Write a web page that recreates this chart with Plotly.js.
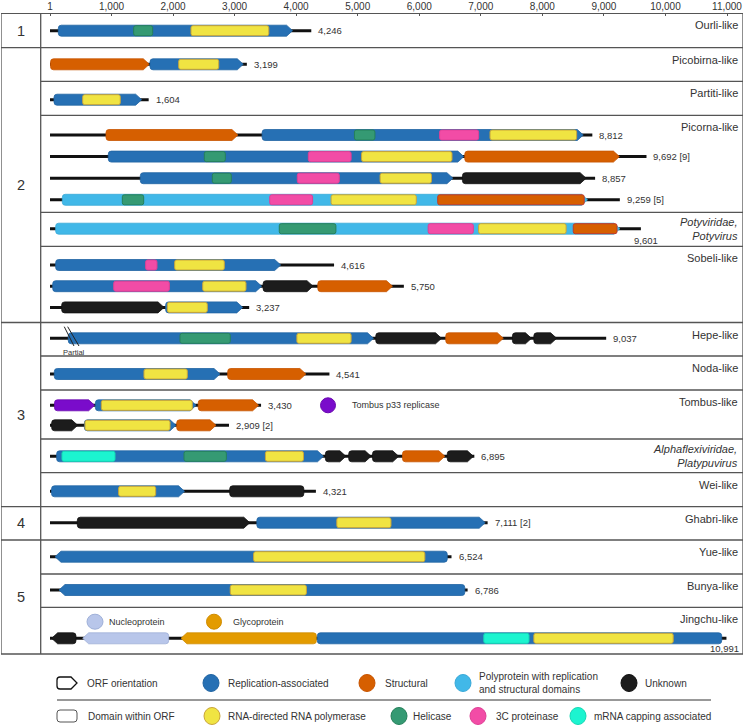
<!DOCTYPE html>
<html><head><meta charset="utf-8">
<script src="https://cdn.plot.ly/plotly-3.0.1.min.js"></script>
<style>html,body{margin:0;padding:0;background:#fff}#chart{width:745px;height:727px}</style>
</head><body><div id="chart"></div>
<script>
// ================= DATA =================
const axisTicks = [1, 1000, 2000, 3000, 4000, 5000, 6000, 7000, 8000, 9000, 10000, 11000];

const cladeNames = ["Ourli-like", "Picobirna-like", "Partiti-like", "Picorna-like", "<i>Potyviridae,</i><br><i>Potyvirus</i>",
  "Sobeli-like", "Hepe-like", "Noda-like", "Tombus-like", "<i>Alphaflexiviridae,</i><br><i>Platypuvirus</i>",
  "Wei-like", "Ghabri-like", "Yue-like", "Bunya-like", "Jingchu-like"];
const cladeGroups = [1, 2, 2, 2, 2, 2, 3, 3, 3, 3, 3, 4, 5, 5, 5];

const genomeClade  = [0, 1, 2, 3, 3, 3, 3, 4, 5, 5, 5, 6, 7, 8, 8, 9, 10, 11, 12, 13, 14];
const genomeLength = [4246, 3199, 1604, 8812, 9692, 8857, 9259, 9601, 4616, 5750, 3237, 9037, 4541, 3430, 2909, 6895, 4321, 7111, 6524, 6786, 10991];
const genomeNote   = ["", "", "", "", "[9]", "", "[5]", "", "", "", "", "", "", "", "[2]", "", "", "[2]", "", "", ""];
const genomePartial = [11];

// ORFs: genome index, start, end, class, strand (1 forward, -1 reverse, 0 no arrow)
const orfGenome = [0, 1, 1, 2, 3, 3, 4, 4, 5, 5, 6, 7, 8, 9, 9, 9, 10, 10, 11, 11, 11, 11, 11, 12, 12, 13, 13, 13, 14, 14, 14, 15, 15, 15, 15, 15, 15, 16, 16, 17, 17, 18, 19, 20, 20, 20, 20];
const orfStart = [136, 10, 1626, 66, 911, 3447, 948, 6740, 1468, 6702, 201, 93, 93, 45, 3463, 4352, 191, 1880, 298, 5294, 6431, 7514, 7862, 71, 2888, 74, 739, 2409, 28, 560, 2060, 109, 4475, 4854, 5241, 5728, 6455, 26, 2921, 445, 3362, 82, 147, 28, 532, 2129, 4344];
const orfEnd   = [3942, 1614, 3141, 1490, 3054, 8665, 6724, 9252, 6547, 8711, 8734, 9260, 3749, 3440, 4274, 5565, 1853, 3132, 5257, 6362, 7366, 7823, 8232, 2763, 4158, 726, 2375, 3390, 451, 2048, 2698, 4444, 4808, 5218, 5666, 6416, 6880, 2187, 4125, 3247, 7072, 6455, 6740, 423, 1929, 4329, 10914];
const orfClass = ["rep", "str", "rep", "rep", "str", "rep", "rep", "str", "rep", "unk", "poly", "poly", "rep", "rep", "unk", "str", "unk", "rep", "rep", "unk", "str", "unk", "unk", "rep", "str", "p33", "rep", "str", "unk", "rep", "str", "rep", "unk", "unk", "unk", "str", "unk", "rep", "unk", "unk", "rep", "rep", "rep", "unk", "np", "gp", "rep"];
const orfStrand = [1, 1, 1, 1, 1, 1, 1, 1, 1, 1, 1, 1, 1, 1, 1, 1, 1, 1, 1, 1, 1, 1, 1, 1, 1, 1, 1, 1, 1, 1, 1, 1, 1, 1, 1, 1, 1, 1, 0, 1, 1, -1, -1, -1, -1, -1, 0];

// Domains within ORFs
const domGenome = [0, 0, 1, 2, 3, 3, 3, 4, 4, 4, 5, 5, 5, 6, 6, 6, 6, 7, 7, 7, 7, 8, 8, 9, 9, 10, 11, 11, 12, 13, 14, 15, 15, 15, 16, 17, 18, 19, 20, 20];
const domStart  = [1360, 2292, 2092, 532, 4947, 6331, 7150, 2508, 4198, 5063, 2638, 4019, 5364, 1176, 3571, 4568, 6300, 3726, 6145, 6964, 8502, 1555, 2027, 1036, 2482, 1907, 2113, 4012, 1528, 835, 570, 196, 2178, 3501, 1116, 4661, 3309, 2930, 7049, 7862];
const domEnd    = [1669, 3556, 2742, 1143, 5280, 6965, 8557, 2849, 4893, 6532, 2947, 4700, 6199, 1523, 4267, 5952, 8680, 4646, 6879, 8386, 9213, 1739, 2833, 1940, 3185, 2557, 2930, 4893, 2232, 2313, 1951, 1057, 2866, 4119, 1718, 5541, 6091, 4167, 7783, 10126];
const domType   = ["hel", "rdrp", "rdrp", "rdrp", "hel", "c3", "rdrp", "hel", "c3", "rdrp", "hel", "c3", "rdrp", "hel", "c3", "rdrp", "strd", "hel", "c3", "rdrp", "strd", "c3", "rdrp", "c3", "rdrp", "rdrp", "hel", "rdrp", "rdrp", "rdrp", "rdrp", "cap", "hel", "rdrp", "rdrp", "rdrp", "rdrp", "rdrp", "cap", "rdrp"];

// Legend texts
const legendOrfKeys   = ["rep", "str", "poly", "unk"];
const legendOrfText   = ["Replication-associated", "Structural", "Polyprotein with replication<br>and structural domains", "Unknown"];
const legendDomKeys   = ["rdrp", "hel", "c3", "cap"];
const legendDomText   = ["RNA-directed RNA polymerase", "Helicase", "3C proteinase", "mRNA capping associated"];

// ================= STYLE / LAYOUT =================
const FONT = "Liberation Sans, Arial, Helvetica, sans-serif";
const FILL = {rep: "#2670b4", str: "#d65f00", poly: "#41b8e8", unk: "#1c1c1c", p33: "#7a0ccb", np: "#b8c6ea", gp: "#e39b00",
              rdrp: "#f0e442", hel: "#359a73", c3: "#f24ca6", cap: "#1cf4d0", strd: "#d65f00"};
const EDGE = {rep: "#2165a3", str: "#c85400", poly: "#3aa9d8", unk: "#111111", p33: "#6a08b0", np: "#9fb0d8", gp: "#d08c00",
              rdrp: "#c9a43a", hel: "#25805a", c3: "#df3f95", cap: "#14d8b4", strd: "#c0392b"};

const K = 677 / 10999;          // px per bp
const bpPerPx = 1 / K;
const bpAt = px => 1 + (px - 50) / K;

const FRAME_L = 1, FRAME_R = 743, GROUP_COL = 40.7, TOP = 13.3;
const ROW_H   = [34.4, 33.6, 34, 97, 34, 76.2, 33.5, 34, 49, 33.7, 34, 33.3, 34, 33.3, 46.7];
const ROW_PAD = [17.4, 16.6, 18.4, 19.7, 16.4, 18.7, 15.8, 18, 15.3, 17.3, 18.6, 16, 16.7, 16, 31];
const ROW_GAP = [0, 0, 0, 21.6, 0, 21.2, 0, 0, 20, 0, 0, 0, 0, 0, 0];
const ORF_H = 11, DOM_H = 10;

// row tops
const rowTop = [];
{ let y = TOP; ROW_H.forEach((h, i) => { rowTop.push(y); y += h; }); }
const frameBottom = rowTop[rowTop.length - 1] + ROW_H[ROW_H.length - 1];

// genome lane y
const genomeY = [];
{ const laneCount = {}; genomeClade.forEach((c, g) => { const k = laneCount[c] || 0; laneCount[c] = k + 1; genomeY[g] = rowTop[c] + ROW_PAD[c] + k * ROW_GAP[c]; }); }

const shapes = [], annotations = [];
const f = n => n.toFixed(2);

function orfPath(s, e, yc, h, dir) {
  const t = 6 * bpPerPx, rb = 3 * bpPerPx, ry = 3;
  const y0 = yc - h / 2, y1 = yc + h / 2;
  if (dir === 1) {
    return `M${f(s + rb)},${f(y0)} L${f(e - t)},${f(y0)} L${f(e)},${f(yc)} L${f(e - t)},${f(y1)} L${f(s + rb)},${f(y1)} Q${f(s)},${f(y1)} ${f(s)},${f(y1 - ry)} L${f(s)},${f(y0 + ry)} Q${f(s)},${f(y0)} ${f(s + rb)},${f(y0)} Z`;
  } else if (dir === -1) {
    return `M${f(e - rb)},${f(y0)} L${f(s + t)},${f(y0)} L${f(s)},${f(yc)} L${f(s + t)},${f(y1)} L${f(e - rb)},${f(y1)} Q${f(e)},${f(y1)} ${f(e)},${f(y1 - ry)} L${f(e)},${f(y0 + ry)} Q${f(e)},${f(y0)} ${f(e - rb)},${f(y0)} Z`;
  }
  return roundRect(s, e, yc, h, 3);
}
function roundRect(s, e, yc, h, r) {
  const rb = r * bpPerPx, y0 = yc - h / 2, y1 = yc + h / 2;
  return `M${f(s + rb)},${f(y0)} L${f(e - rb)},${f(y0)} Q${f(e)},${f(y0)} ${f(e)},${f(y0 + r)} L${f(e)},${f(y1 - r)} Q${f(e)},${f(y1)} ${f(e - rb)},${f(y1)} L${f(s + rb)},${f(y1)} Q${f(s)},${f(y1)} ${f(s)},${f(y1 - r)} L${f(s)},${f(y0 + r)} Q${f(s)},${f(y0)} ${f(s + rb)},${f(y0)} Z`;
}
function ellipse(cx, cy, w, h, key) {
  shapes.push({type: "circle", xref: "x", yref: "y", x0: bpAt(cx - w / 2), x1: bpAt(cx + w / 2), y0: cy - h / 2, y1: cy + h / 2,
    fillcolor: FILL[key], line: {color: EDGE[key], width: 1}});
}
function text(px, y, txt, size, anchor, extra) {
  annotations.push(Object.assign({xref: "x", yref: "y", x: bpAt(px), y: y, text: txt, showarrow: false, xanchor: anchor || "left",
    yanchor: "middle", font: {family: FONT, size: size, color: "#333"}}, extra || {}));
}
function hline(x0px, x1px, y, color, width) {
  shapes.push({type: "line", xref: "x", yref: "y", x0: bpAt(x0px), x1: bpAt(x1px), y0: y, y1: y, line: {color: color, width: width}});
}

// frame
shapes.push({type: "rect", xref: "x", yref: "y", x0: bpAt(FRAME_L), x1: bpAt(FRAME_R), y0: TOP, y1: frameBottom, line: {color: "#555", width: 1.3}});
shapes.push({type: "line", xref: "x", yref: "y", x0: bpAt(GROUP_COL), x1: bpAt(GROUP_COL), y0: TOP, y1: frameBottom, line: {color: "#555", width: 1.3}});
for (let c = 1; c < cladeNames.length; c++) {
  const newGroup = cladeGroups[c] !== cladeGroups[c - 1];
  hline(newGroup ? FRAME_L : GROUP_COL, FRAME_R, rowTop[c], "#555", 1.3);
}
// group numbers
[...new Set(cladeGroups)].forEach(gr => {
  const idx = cladeGroups.map((g, i) => g === gr ? i : -1).filter(i => i >= 0);
  const y0 = rowTop[idx[0]], y1 = rowTop[idx[idx.length - 1]] + ROW_H[idx[idx.length - 1]];
  text(21, (y0 + y1) / 2, String(gr), 14.5, "center");
});
// clade labels
cladeNames.forEach((n, c) => {
  if (n.includes("<br>")) text(740, rowTop[c] + 2, n, 11, "right", {yanchor: "top", align: "right"});
  else text(740, rowTop[c] + 12, n, 11, "right");
});

// ORFs
orfGenome.forEach((g, i) => {
  shapes.push({type: "path", xref: "x", yref: "y", path: orfPath(orfStart[i], orfEnd[i], genomeY[g], ORF_H, orfStrand[i]),
    fillcolor: FILL[orfClass[i]], line: {color: EDGE[orfClass[i]], width: 0.8}});
});
// domains
domGenome.forEach((g, i) => {
  shapes.push({type: "path", xref: "x", yref: "y", path: roundRect(domStart[i], domEnd[i], genomeY[g], DOM_H, 2),
    fillcolor: FILL[domType[i]], line: {color: EDGE[domType[i]], width: 1}});
});

// partial marker (Hepe)
genomePartial.forEach(g => {
  const s = orfStart[orfGenome.indexOf(g)], y = genomeY[g];
  [[-4, 5.7], [-0.6, 10.7]].forEach(([a, b]) => {
    shapes.push({type: "line", xref: "x", yref: "y", x0: s + a * bpPerPx, x1: s + b * bpPerPx, y0: y - 11.6, y1: y + 7.7, line: {color: "#222", width: 1}});
  });
  annotations.push({xref: "x", yref: "y", x: s + 6 * bpPerPx, y: y + 14, text: "Partial", showarrow: false, xanchor: "center", yanchor: "middle",
    font: {family: FONT, size: 7.5, color: "#333"}});
});

// genome length labels
genomeLength.forEach((L, g) => {
  const t = L.toLocaleString("en-US") + (genomeNote[g] ? " " + genomeNote[g] : "");
  const base = {xref: "x", yref: "y", x: L, text: t, showarrow: false, yanchor: "middle", font: {family: FONT, size: 9.5, color: "#333"}};
  if (g === 7) annotations.push(Object.assign(base, {y: genomeY[g] + 12, xanchor: "center", xshift: 5}));
  else if (g === 20) annotations.push(Object.assign(base, {y: genomeY[g] + 10, xanchor: "right", xshift: 15}));
  else annotations.push(Object.assign(base, {y: genomeY[g], xanchor: "left", xshift: 5}));
});

// in-row keys
ellipse(328, genomeY[13], 15, 15, "p33");
text(350, genomeY[13], "Tombus p33 replicase", 9, "left");
ellipse(95, rowTop[14] + 14.4, 16, 15, "np");
text(107, rowTop[14] + 14.4, "Nucleoprotein", 9, "left");
ellipse(214, rowTop[14] + 14.4, 15, 15, "gp");
text(231, rowTop[14] + 14.4, "Glycoprotein", 9, "left");

// bottom legend
const LY1 = 683, LY2 = 716;
{
  const s = bpAt(57), e = bpAt(77);
  shapes.push({type: "path", xref: "x", yref: "y", path: orfPath(s, e, LY1, 12, 1), fillcolor: "#fff", line: {color: "#111", width: 1.3}});
  text(85, LY1, "ORF orientation", 10, "left");
  shapes.push({type: "path", xref: "x", yref: "y", path: roundRect(s, e, LY2, 12, 3), fillcolor: "#fff", line: {color: "#555", width: 1}});
  text(86, LY2, "Domain within ORF", 10, "left");
  hline(57, 711, 700, "#333", 1);
  const cx1 = [211, 367, 463, 629], tx1 = [226, 383, 477, 643];
  legendOrfKeys.forEach((k, i) => {
    shapes.push({type: "circle", xref: "x", yref: "y", x0: bpAt(cx1[i] - 8), x1: bpAt(cx1[i] + 8), y0: LY1 - 8.5, y1: LY1 + 8.5,
      fillcolor: FILL[k], line: {color: EDGE[k], width: 1}});
    text(tx1[i], LY1, legendOrfText[i], 10, "left", {align: "left"});
  });
  const cx2 = [212, 399, 478, 578], tx2 = [226, 411, 494, 592];
  legendDomKeys.forEach((k, i) => {
    shapes.push({type: "circle", xref: "x", yref: "y", x0: bpAt(cx2[i] - 8), x1: bpAt(cx2[i] + 8), y0: LY2 - 8.5, y1: LY2 + 8.5,
      fillcolor: FILL[k], line: {color: EDGE[k], width: 1}});
    text(tx2[i], LY2, legendDomText[i], 10, "left");
  });
}

// genome lines (trace)
const lx = [], ly = [];
genomeLength.forEach((L, g) => { lx.push(1, L, null); ly.push(genomeY[g], genomeY[g], null); });

const data = [{type: "scatter", mode: "lines", x: lx, y: ly, line: {color: "#111", width: 3}, hoverinfo: "skip", showlegend: false, cliponaxis: false}];

const layout = {
  width: 745, height: 727,
  margin: {l: FRAME_L, r: 745 - FRAME_R, t: 13, b: 0},
  paper_bgcolor: "#fff", plot_bgcolor: "#fff",
  showlegend: false,
  xaxis: {side: "top", range: [bpAt(FRAME_L), bpAt(FRAME_R)], autorange: false, tickvals: axisTicks,
    ticktext: axisTicks.map(v => v.toLocaleString("en-US")), ticks: "inside", ticklen: 3, tickcolor: "#555", tickwidth: 1,
    ticklabelstandoff: 0,
    showline: false, showgrid: false, zeroline: false, tickfont: {family: FONT, size: 10, color: "#333"}, fixedrange: true},
  yaxis: {range: [727, 13], autorange: false, visible: false, fixedrange: true},
  shapes: shapes, annotations: annotations
};
Plotly.newPlot("chart", data, layout, {displayModeBar: false, staticPlot: true});
</script>
</body></html>
